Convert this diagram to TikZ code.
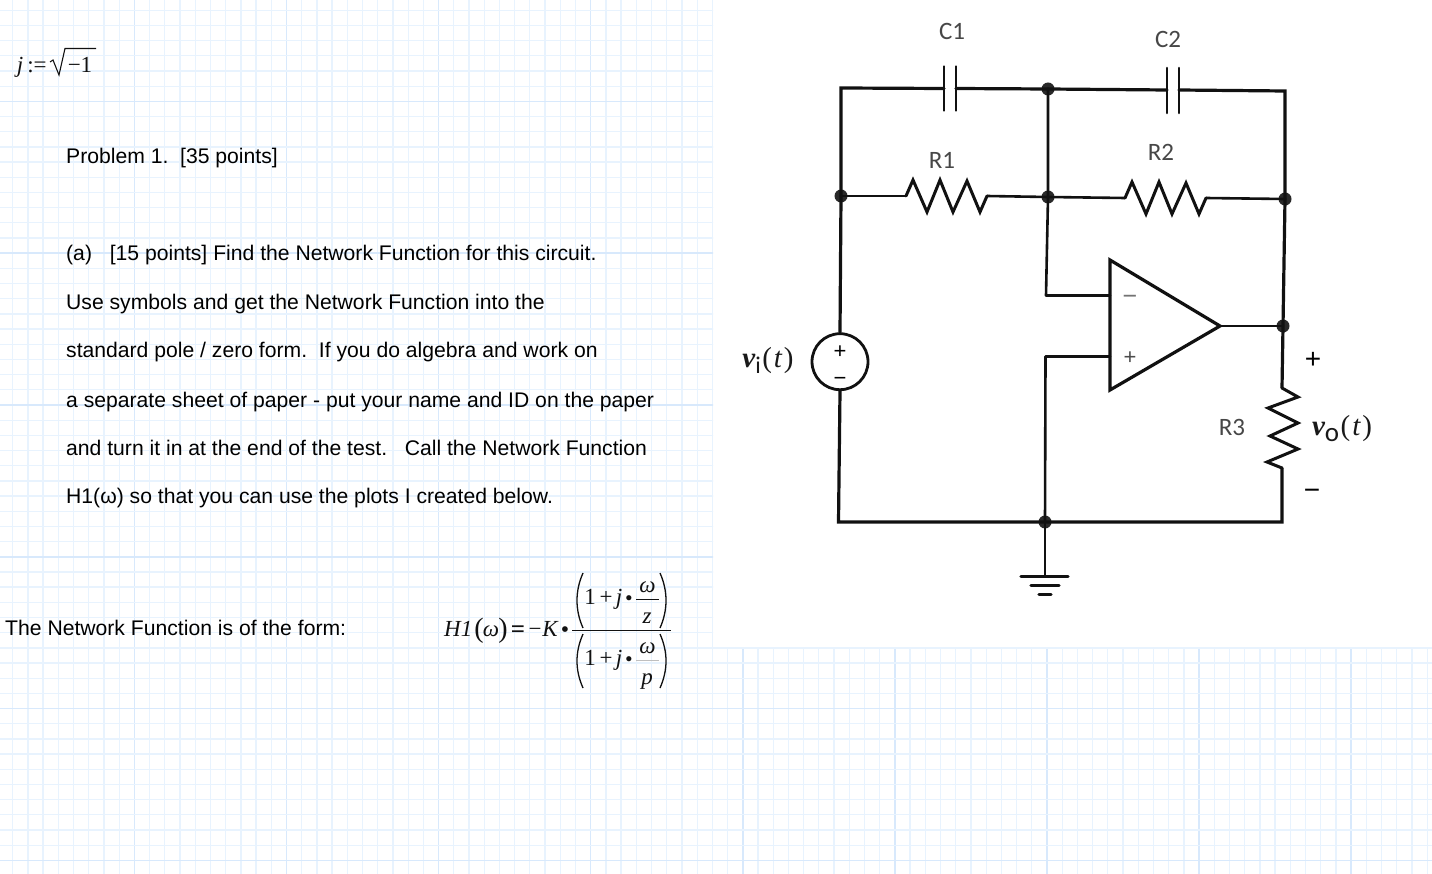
\documentclass[tikz,border=0pt]{standalone}
\usepackage{fontspec}
\setmainfont{Liberation Sans}
\newfontfamily\mathserif{Liberation Serif}
\newfontfamily\labelfont{Carlito}
\newcommand{\fs}[1]{\fontsize{#1}{#1}\selectfont}
\definecolor{gridminor}{HTML}{E8F3FE}
\definecolor{gridmajor}{HTML}{D8E9FC}
\definecolor{ink}{HTML}{111111}
\tikzset{
  body/.style={anchor=base west,inner sep=0pt,text=black,font=\fs{21.15}},
  mth/.style={anchor=base,inner sep=0pt,text=ink,font=\mathserif\fs{23}\itshape},
  mthup/.style={anchor=base,inner sep=0pt,text=ink,font=\mathserif\fs{23}},
  wire/.style={draw=ink,line width=3.2pt,line cap=round,line join=miter},
  thin wire/.style={draw=ink,line width=2.6pt,line cap=round,line join=round},
  junction/.style={circle,fill=ink!90,inner sep=0pt,minimum size=13pt},
  partlabel/.style={inner sep=0pt,text=black!72,font=\labelfont\fs{25}},
  signal/.style={inner sep=0pt,text=black!90,font=\mathserif\fs{29}},
  gl minor/.style={draw=gridminor,line width=1.3pt},
  gl major/.style={draw=gridmajor,line width=1.6pt},
  bigparen/.style={draw=ink,line width=1.3pt}
}
\begin{document}
\begin{tikzpicture}[x=1pt,y=-1pt]
\useasboundingbox (0,0) rectangle (1432,874);
\fill[white] (0,0) rectangle (1432,874);
% grid
\begin{scope}
\clip (0,0) -- (713,0) -- (713,647) -- (1432,647) -- (1432,874) -- (0,874) -- cycle;
\foreach \k in {0,...,93} {
  \pgfmathsetmacro{\gx}{12.7+15.21*\k}
  \pgfmathtruncatemacro{\mj}{mod(\k,10)==8 ? 1 : 0}
  \ifnum\mj=1 \draw[gl major] (\gx,0) -- (\gx,874); \else \draw[gl minor] (\gx,0) -- (\gx,874); \fi
}
\foreach \k in {0,...,57} {
  \pgfmathsetmacro{\gy}{10.3+15.18*\k}
  \pgfmathtruncatemacro{\mj}{mod(\k,10)==6 ? 1 : 0}
  \ifnum\mj=1 \draw[gl major] (0,\gy) -- (1432,\gy); \else \draw[gl minor] (0,\gy) -- (1432,\gy); \fi
}
\end{scope}
% left text
\node[mth] (tj) at (20,73) {j};
\node[mthup] (tass) at (37,73) {:=};
\node[mthup] (tm1) at (80,73) {−1};
\coordinate (s0) at (50,62); \coordinate (s3) at (96,48.5);
\draw[ink,line width=1.1pt] (s0) -- (53,60) -- (59,75) -- (65,48.5) -- (s3);
\node[body] (t1) at (66,164) {Problem 1.\ \ [35 points]};
\node[body] (t2) at (66,261) {(a)\ \ \kern6pt [15 points] Find the Network Function for this circuit.};
\node[body] (t3) at (66,310) {Use symbols and get the Network Function into the};
\node[body] (t4) at (66,358) {standard pole / zero form.\ \ If you do algebra and work on};
\node[body] (t5) at (66,407) {a separate sheet of paper - put your name and ID on the paper};
\node[body] (t6) at (66,455.5) {and turn it in at the end of the test.\ \ \ Call the Network Function};
\node[body] (t7) at (66,503) {H1(ω) so that you can use the plots I created below.};
\node[body] (t8) at (5,635) {The Network Function is of the form:};
% formula
\node[mth,anchor=base west] (fh) at (444,636) {H1};
\node[mthup,font=\mathserif\fs{28}\selectfont] (fl) at (479,637) {(};
\node[mth] (fw) at (491,636) {ω};
\node[mthup,font=\mathserif\fs{28}\selectfont] (fr) at (503,637) {)};
\node[mthup,font=\mathserif\bfseries\fs{25}] (feq) at (518,637) {=};
\node[mthup] (fm) at (535,636) {−};
\node[mth] (fk) at (550,636) {K};
\node[mthup,font=\mathserif\bfseries\fs{21}] (fd) at (565,636) {•};
\coordinate (b1) at (572,630.5); \coordinate (b2) at (671,630.5);
\draw[ink,line width=1.2pt] (b1) -- (b2);
\foreach \nm/\by/\oy/\ly/\py/\dn/\ptop/\pbot/\barc in {a/604.5/592/599/623/z/573/628/ink,b/665.5/653/660/684/p/634/688/black!25} {
  \node[mthup] (one\nm) at (590,\by) {1};
  \node[mthup] (plus\nm) at (606,\by) {+};
  \node[mth] (j\nm) at (619,\by) {j};
  \node[mthup,font=\mathserif\bfseries\fs{19}] (dot\nm) at (629,\by) {•};
  \node[mth] (om\nm) at (647.5,\oy) {ω};
  \node[mth] (den\nm) at (647,\py) {\dn};
  \coordinate (fb\nm) at (636,\ly); \coordinate (fe\nm) at (659,\ly);
  \draw[\barc,line width=1pt] (fb\nm) -- (fe\nm);
  \draw[bigparen] (583,\ptop) .. controls (575,\ptop+18) and (575,\pbot-18) .. (583,\pbot);
  \draw[bigparen] (660,\ptop) .. controls (668,\ptop+18) and (668,\pbot-18) .. (660,\pbot);
}
% circuit junctions
\node[junction] (n1) at (841,196) {};
\node[junction] (n2) at (1048,89) {};
\node[junction] (n3) at (1048,197) {};
\node[junction] (n4) at (1285,199) {};
\node[junction] (n5) at (1283,326) {};
\node[junction] (n6) at (1045,522) {};
\coordinate (tl) at (841,88);
\coordinate (tr) at (1285,91);
\coordinate (c1a) at (944,88.5); \coordinate (c1b) at (956,88.5);
\coordinate (c2a) at (1167,90); \coordinate (c2b) at (1179,90);
\coordinate (r1a) at (906,196); \coordinate (r1b) at (987,196);
\coordinate (r2a) at (1125,198); \coordinate (r2b) at (1206,198);
\coordinate (r3a) at (1282,388); \coordinate (r3b) at (1282,468);
\coordinate (bl) at (838.5,522);
\coordinate (br) at (1282,522);
\coordinate (inm) at (1046,295.5);
\coordinate (inp) at (1045.5,356.5);
\coordinate (gnd) at (1045,576.5);
% source
\node[circle,draw=ink,line width=2.8pt,minimum size=56pt,inner sep=0pt] (vs) at (840,361.7) {};
\node[inner sep=0pt,text=black,font=\fs{22}] (vsp) at (840,352) {+};
\node[inner sep=0pt,text=black,font=\fs{22}] (vsm) at (840,381) {−};
% op amp
\coordinate (oa1) at (1110,260); \coordinate (oa2) at (1110,390); \coordinate (oa3) at (1220,326);
\draw[wire,line join=miter] (oa1) -- (oa2) -- (oa3) -- cycle;
\coordinate (oam) at (1110,295.5); \coordinate (oap) at (1110,356.5);
\node[inner sep=0pt,text=black!55,font=\fs{25}] (tm) at (1130,300) {−};
\node[inner sep=0pt,text=black!70,font=\fs{22}] (tp) at (1130,358) {+};
% wires
\draw[wire] (c1a) -- (tl) -- (n1.center);
\draw[wire] (c1b) -- (n2.center);
\draw[wire] (n2.center) -- (c2a);
\draw[wire] (c2b) -- (tr) -- (n4.center);
\draw[wire] (n1.center) -- (vs.north);
\draw[wire] (vs.south) -- (bl) -- (n6.center) -- (br) -- (r3b);
\draw[thin wire] (n2.center) -- (n3.center) -- (inm) -- (oam);
\draw[thin wire] (n6.center) -- (inp) -- (oap);
\draw[wire] (n4.center) -- (n5.center) -- (r3a);
\draw[thin wire] (oa3) -- (n5.center);
\draw[thin wire] (n6.center) -- (gnd);
\draw[thin wire] (n1.center) -- (r1a);
\draw[thin wire] (r1b) -- (n3.center);
\draw[thin wire] (n3.center) -- (r2a);
\draw[thin wire] (r2b) -- (n4.center);
% capacitors
\draw[thin wire] (c1a) ++(0,-22) -- ++(0,44);
\draw[thin wire] (c1b) ++(0,-22) -- ++(0,44);
\draw[thin wire] (c2a) ++(0,-22) -- ++(0,45);
\draw[thin wire] (c2b) ++(0,-22) -- ++(0,45);
% resistors
\draw[wire,line width=3pt] (r1a) -- (913,180) -- (927,212) -- (940,180) -- (953,212) -- (967,181) -- (980,212) -- (r1b);
\draw[wire,line width=3pt] (r2a) -- (1132,182) -- (1146,214) -- (1159,182) -- (1172,214) -- (1186,183) -- (1199,214) -- (r2b);
\draw[wire,line width=3pt] (r3a) -- (1298,397) -- (1268,408) -- (1298,423) -- (1270,436) -- (1298,449) -- (1267,462) -- (r3b);
% ground
\coordinate (g1a) at (1021,576.5); \coordinate (g1b) at (1068,576.5);
\coordinate (g2a) at (1031,585.5); \coordinate (g2b) at (1059,585.5);
\coordinate (g3a) at (1039,594.5); \coordinate (g3b) at (1051,594.5);
\draw[wire] (g1a) -- (g1b);
\draw[wire] (g2a) -- (g2b);
\draw[wire] (g3a) -- (g3b);
% labels
\node[partlabel] (lc1) at (952,31) {C1};
\node[partlabel] (lc2) at (1168,39) {C2};
\node[partlabel] (lr1) at (942,160) {R1};
\node[partlabel] (lr2) at (1161,152) {R2};
\node[partlabel] (lr3) at (1232,427) {R3};
\node[signal] (lvi) at (768,361) {{\bfseries\itshape v}\raisebox{-6pt}{\labelfont\fs{24}i}\hspace{1.5pt}(\kern2pt{\itshape t}\kern2pt)};
\node[signal] (lvo) at (1342,429) {{\bfseries\itshape v}\raisebox{-6pt}{\labelfont\fs{27}o}\hspace{1.5pt}(\kern2pt{\itshape t}\kern2pt)};
\node[inner sep=0pt,text=black,font=\fs{28}] (lp) at (1313,360) {+};
\node[inner sep=0pt,text=black,font=\fs{28}] (lm) at (1312,494) {−};
\end{tikzpicture}
\end{document}
